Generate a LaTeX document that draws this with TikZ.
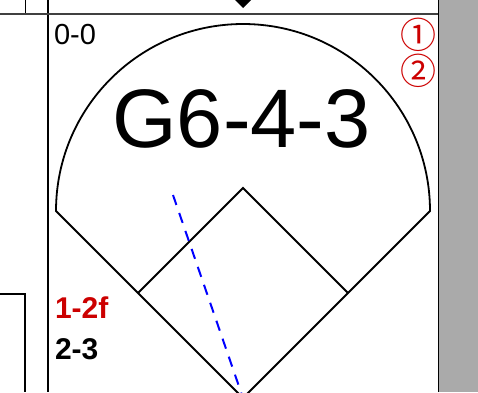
\documentclass[tikz,border=0pt]{standalone}
\usepackage{fontspec}
\setmainfont{Liberation Sans}
\newfontfamily\symfont{Noto Sans CJK SC}
\definecolor{scorered}{RGB}{204,0,0}
\definecolor{panelgray}{RGB}{170,170,170}
\definecolor{rulegray}{RGB}{64,64,64}
\begin{document}
\begin{tikzpicture}[x=1pt,y=-1pt,
  fieldline/.style={line width=1.8pt,black},
  frameline/.style={line width=1.6pt,black},
  txt/.style={inner sep=0pt,outer sep=0pt},
  smalltxt/.style={txt,font=\fontsize{29}{29}\selectfont},
  boldtxt/.style={txt,font=\fontsize{30}{30}\selectfont\bfseries},
  circnum/.style={txt,text=scorered,text height=27.8pt,text depth=0.2pt,font=\symfont\fontsize{36}{36}\selectfont},
  hitpath/.style={blue,line width=2pt,dash pattern=on 10.5pt off 8.5pt}]
\useasboundingbox (0,0) rectangle (478,392);
\clip (0,0) rectangle (478,392);
% frame
\fill[panelgray] (439,0) rectangle (478,392);
\draw[frameline] (438.5,0) -- (438.5,392);
\draw[frameline] (48,0) -- (48,392);
\draw[line width=1pt] (25,0) -- (25,13);
\draw[rulegray,line width=2.5pt] (0,14) -- (438,14);
\fill (235,0) -- (251,0) -- (243,8) -- cycle;
\draw[line width=1.5pt] (0,294) -- (25,294) -- (25,392);
% field
\coordinate (H) at (243,398);
\coordinate (L) at (56,211);
\coordinate (S) at (243,188);
\coordinate (T) at (138,293);
\coordinate (F) at (348,293);
\coordinate (D) at (173,195);
\draw[fieldline] (H) -- (L) arc[start angle=180,end angle=360,radius=187] -- cycle;
\draw[fieldline] (T) -- (S) -- (F);
\draw[hitpath] (D) -- (H);
% texts
\node[smalltxt,anchor=base west] (count) at (54,44) {0-0};
\node[txt,anchor=base,font=\fontsize{83}{83}\selectfont] (play) at (241.5,147) {G6-4-3};
\node[boldtxt,anchor=base west,text=scorered] (rbi) at (55,318) {1-2f};
\node[boldtxt,anchor=base west] (cnt2) at (55,359) {2-3};
\node[circnum] (c1) at (418,35) {①};
\node[circnum] (c2) at (418,71) {②};
\end{tikzpicture}
\end{document}
